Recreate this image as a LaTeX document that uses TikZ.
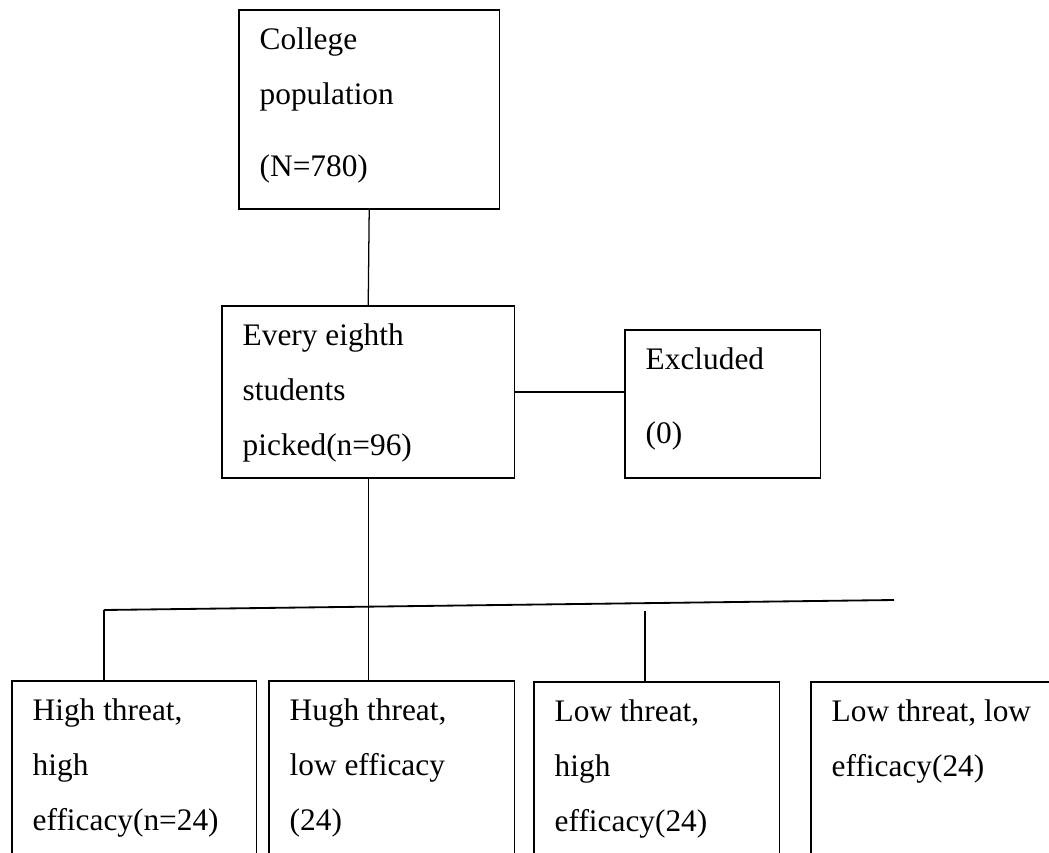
\documentclass[tikz,border=0pt]{standalone}
\usepackage{fontspec}
\setmainfont{Liberation Serif}
\usepackage{tikz}
\usetikzlibrary{positioning,calc}

\newcommand{\boxlines}[3]{\parbox[t][#2][t]{#1}{\raggedright\rule{0pt}{0.9875cm}#3}}

\begin{document}
\begin{tikzpicture}[
    stage/.style={rectangle, draw, line width=1.3pt, anchor=north west, inner xsep=0.52cm, inner ysep=0pt, font=\fontsize{22.3}{39.1}\selectfont},
    link/.style={line width=0.9pt},
    bus/.style={line width=1.3pt}
]
    \useasboundingbox (0,0) rectangle (26.225,-21.325);
    \clip (0,0) rectangle (26.225,-21.325);

    % Population
    \node[stage] (pop) at (5.95,-0.225) {\boxlines{5.475cm}{4.975cm}{College\\population\\[0.425cm](N=780)}};

    % Sample
    \node[stage] (pick) at (5.525,-7.625) {\boxlines{6.275cm}{4.3cm}{Every eighth\\students\\picked(n=96)}};
    \node[stage] (excl) at (15.6,-8.225) {\boxlines{3.85cm}{3.7cm}{Excluded\\[0.475cm](0)}};

    % Groups
    \node[stage] (g1) at (0.275,-17) {\boxlines{5.075cm}{5cm}{High threat,\\high\\efficacy(n=24)}};
    \node[stage] (g2) at (6.7,-17) {\boxlines{5.1cm}{5cm}{Hugh threat,\\low efficacy\\(24)}};
    \node[stage] (g3) at (13.325,-17.025) {\boxlines{5.1cm}{5cm}{Low threat,\\high\\efficacy(24)}};
    \node[stage] (g4) at (20.25,-17.025) {\boxlines{5.45cm}{5cm}{Low threat, low\\efficacy(24)}};

    % Lines
    \coordinate (busL) at (2.6,-15.25);
    \coordinate (busR) at (22.35,-15.0);
    \coordinate (drop3) at (16.125,-15.275);
    \draw[link] (pop.south) -- (pick.north);
    \draw[link] (pick.east) -- (pick.east -| excl.west);
    \draw[bus] (busL) -- (busR);
    \draw[link] (pick.south) -- (pick.south |- g2.north);
    \draw[link] (busL) -- (busL |- g1.north);
    \draw[link] (drop3) -- (drop3 |- g3.north);
\end{tikzpicture}
\end{document}
